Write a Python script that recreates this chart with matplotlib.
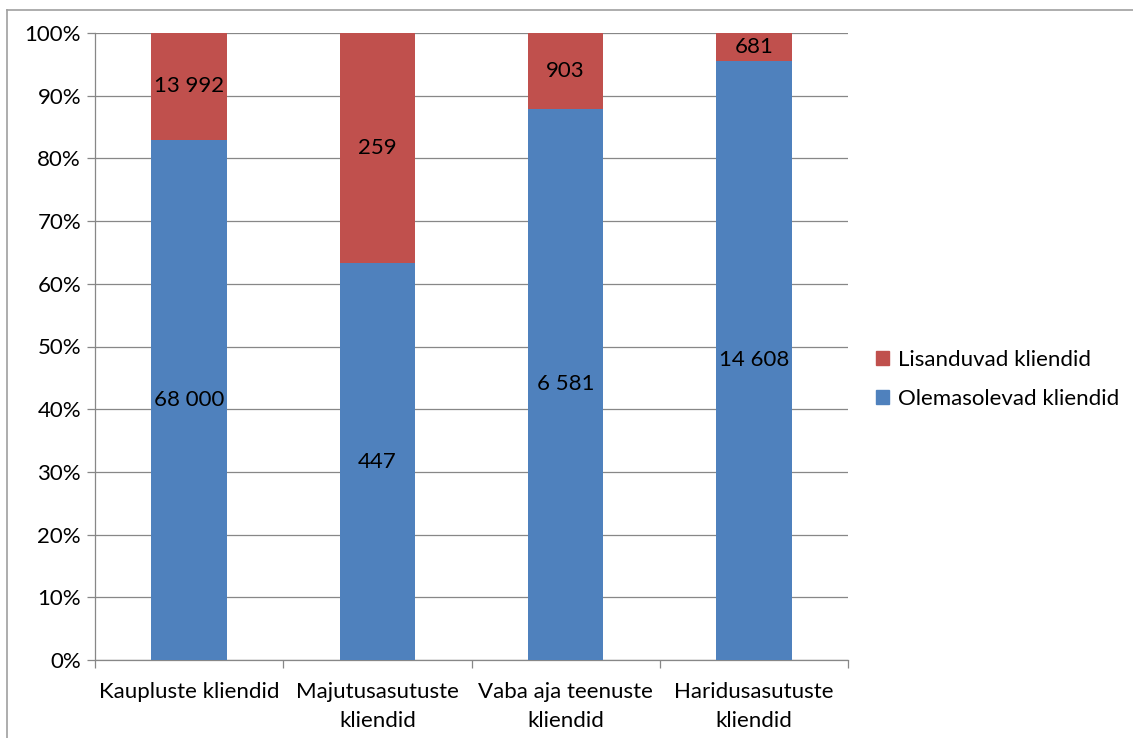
import numpy as np
import matplotlib
matplotlib.use("Agg")
import matplotlib.pyplot as plt
from matplotlib.lines import Line2D
from matplotlib.patches import Patch

plt.rcParams['font.family'] = ['Lato', 'DejaVu Sans']

categories = ['Kaupluste kliendid', 'Majutusasutuste\nkliendid', 'Vaba aja teenuste\nkliendid', 'Haridusasutuste\nkliendid']
olemasolevad = [68000, 447, 6581, 14608]
lisanduvad = [13992, 259, 903, 681]
olemas_labels = ['68 000', '447', '6 581', '14 608']
lisa_labels = ['13 992', '259', '903', '681']

blue = '#4F81BD'
red = '#C0504D'
grey = '#878787'

W, H = 1133, 738
fig = plt.figure(figsize=(W / 100, H / 100), dpi=100)
ax = fig.add_axes((95 / W, 1 - 660 / H, (848 - 95) / W, (660 - 33) / H))

tot = np.array(olemasolevad) + np.array(lisanduvad)
p_o = np.array(olemasolevad) / tot
p_l = np.array(lisanduvad) / tot
x = np.arange(len(categories))

ax.bar(x, p_o, width=0.4, color=blue, zorder=3)
ax.bar(x, p_l, width=0.4, bottom=p_o, color=red, zorder=3)

fs = 16
for i in range(len(x)):
    ax.text(x[i], p_o[i] / 2, olemas_labels[i], ha='center', va='center', fontsize=fs, zorder=4)
    ax.text(x[i], p_o[i] + p_l[i] / 2, lisa_labels[i], ha='center', va='center', fontsize=fs, zorder=4)

ax.set_xlim(-0.5, len(x) - 0.5)
ax.set_ylim(0, 1)
ax.set_yticks(np.arange(0, 1.01, 0.1))
ax.set_yticklabels(['%d%%' % v for v in range(0, 101, 10)], fontsize=fs)
ax.yaxis.grid(True, color=grey, linewidth=0.9, zorder=0)
ax.tick_params(axis='y', length=6, color=grey, width=0.9, pad=4)

ax.set_xticks(np.arange(-0.5, len(x), 1.0))
ax.set_xticklabels([])
ax.set_xticks(x, minor=True)
ax.set_xticklabels(categories, minor=True, fontsize=fs, linespacing=1.55)
ax.tick_params(axis='x', which='major', length=6, color=grey, width=0.9)
ax.tick_params(axis='x', which='minor', length=0, pad=16)

for s in ['top', 'right']:
    ax.spines[s].set_visible(False)
for s in ['left', 'bottom']:
    ax.spines[s].set_color(grey)
    ax.spines[s].set_linewidth(0.9)

handles = [Patch(color=red), Patch(color=blue)]
fig.legend(handles, ['Lisanduvad kliendid', 'Olemasolevad kliendid'],
           loc='upper left', bbox_to_anchor=(856 / W, 1 - 330 / H), frameon=False,
           fontsize=fs, handlelength=0.6, handleheight=0.6, handletextpad=0.4,
           labelspacing=0.85)

# outer chart border
fig.add_artist(Line2D([7 / W, 1], [1 - 10 / H, 1 - 10 / H], color='#A0A0A0', linewidth=1.2))
fig.add_artist(Line2D([7 / W, 7 / W], [0, 1 - 10 / H], color='#A0A0A0', linewidth=1.2))

fig.savefig('out.png', dpi=100)
